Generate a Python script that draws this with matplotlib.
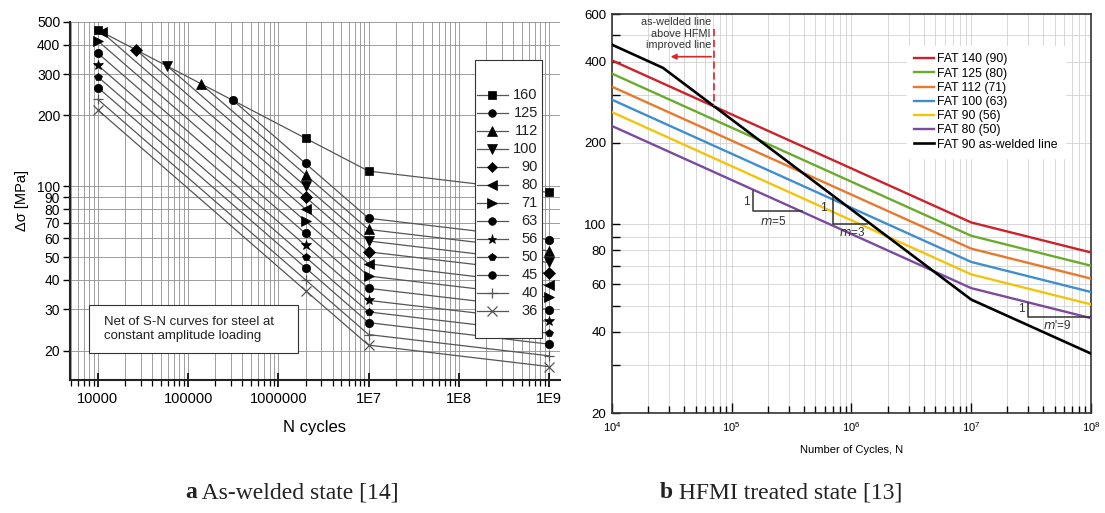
import matplotlib.pyplot as plt
import numpy as np
from matplotlib.patches import Rectangle
from matplotlib.ticker import FixedLocator, NullLocator, NullFormatter, LogLocator

plt.rcParams['font.family'] = ['Liberation Sans', 'DejaVu Sans']

# (a) as-welded: net of S-N curves, one row per FAT class
fat_classes = [160, 125, 112, 100, 90, 80, 71, 63, 56, 50, 45, 40, 36]
fat_markers = ['s', 'o', '^', 'v', 'D', '<', '>', 'o', '*', 'p', 'o', '+', 'x']
n_start = [1e4, 3.14e5, 1.38e5, 5.9e4, 2.67e4, 1.1e4, 1e4, 1e4, 1e4, 1e4, 1e4, 1e4, 1e4]
s_start = [462, 232, 273, 324, 379, 453, 415, 368, 327, 292, 263, 234, 211]
s_2e6 = [160, 125, 112, 100, 90, 80, 71, 63, 56, 50, 45, 40, 36]
s_1e7 = [116, 73.1, 65.5, 58.5, 52.6, 46.8, 41.5, 36.8, 32.7, 29.2, 26.3, 23.4, 21.1]
s_1e9 = [94.1, 59.3, 53.1, 47.4, 42.7, 37.9, 33.7, 29.9, 26.6, 23.7, 21.3, 19.0, 17.1]
n_knee = [2e6, 1e7, 1e9]
xticks_a = [1e4, 1e5, 1e6, 1e7, 1e8, 1e9]
xlabels_a = ['10000', '100000', '1000000', '1E7', '1E8', '1E9']
yticks_a = [20, 30, 40, 50, 60, 70, 80, 90, 100, 200, 300, 400, 500]

# (b) HFMI treated
hfmi_labels = ['FAT 140 (90)', 'FAT 125 (80)', 'FAT 112 (71)', 'FAT 100 (63)', 'FAT 90 (56)', 'FAT 80 (50)']
hfmi_colors = ['#cc2229', '#6aab2e', '#e8792c', '#3f8fcf', '#f2c40c', '#7a4a9e']
hfmi_n = [1e4, 1e7, 1e8]
hfmi_s_1e4 = [404, 361, 323, 289, 260, 231]
hfmi_s_1e7 = [101.5, 90.6, 81.2, 72.5, 65.2, 58.0]
hfmi_s_1e8 = [78.6, 70.2, 62.9, 56.1, 50.5, 44.9]
aw_n = [1e4, 2.67e4, 1e7, 1e8]
aw_s = [462, 379, 52.6, 33.2]
yticks_b = [20, 40, 60, 80, 100, 200, 400, 600]
yminor_b = [30, 50, 70, 90, 300, 500]


def marker_style(mk):
    # filled markers black, the thin ones grey; triangles a bit bigger to look even
    if mk in ('+', 'x'):
        return dict(ms=7.5, mew=0.9, color='#555555')
    if mk in ('^', 'v', '<', '>', '*'):
        return dict(ms=7, mew=0.5, color='black')
    return dict(ms=6, mew=0.5, color='black')


fig = plt.figure(figsize=(11.05, 5.13), dpi=100)

# ---------------- panel a ----------------
ax1 = fig.add_axes([0.0633, 0.2593, 0.4434, 0.698])
ax1.set_xscale('log')
ax1.set_yscale('log')
for i, fat in enumerate(fat_classes):
    ns = [n_start[i]] + n_knee
    ss = [s_start[i], s_2e6[i], s_1e7[i], s_1e9[i]]
    ax1.plot(ns, ss, color='#555555', lw=0.9, zorder=2)
    ax1.plot(ns, ss, ls='none', marker=fat_markers[i], zorder=2.5, **marker_style(fat_markers[i]))
ax1.set_xlim(4900, 1.32e9)
ax1.set_ylim(15, 500)
ax1.set_xticks(xticks_a, xlabels_a)
ax1.xaxis.set_minor_locator(LogLocator(base=10, subs=np.arange(2, 10)))
ax1.xaxis.set_minor_formatter(NullFormatter())
ax1.yaxis.set_major_locator(FixedLocator(yticks_a))
ax1.set_yticklabels([str(v) for v in yticks_a])
ax1.yaxis.set_minor_locator(NullLocator())
ax1.tick_params(axis='x', which='major', direction='inout', length=10, width=1.2, labelsize=10.5, pad=4)
ax1.tick_params(axis='x', which='minor', direction='out', length=4, width=0.9)
ax1.tick_params(axis='y', which='major', direction='out', length=5, width=1.0, labelsize=10, pad=2)
ax1.grid(which='both', color='#8f8f8f', lw=0.6)
for side in ('top', 'right'):
    ax1.spines[side].set_visible(False)
for side in ('left', 'bottom'):
    ax1.spines[side].set_linewidth(1.5)
    ax1.spines[side].set_color('#222222')
ax1.set_ylabel('Δσ [MPa]', fontsize=10.5, labelpad=6)
ax1.set_xlabel('N cycles', fontsize=12, labelpad=10)

# legend box drawn by hand so the numbers can be right aligned
ax1.add_patch(Rectangle((0.827, 0.117), 0.136, 0.777, transform=ax1.transAxes,
                        fc='white', ec='#333333', lw=0.8, zorder=3))
for i, fat in enumerate(fat_classes):
    y = 0.796 - i * 0.0503
    st = marker_style(fat_markers[i])
    st['ms'] = st['ms'] - 0.5
    ax1.plot([0.831, 0.894], [y, y], transform=ax1.transAxes, color='#555555', lw=0.9, zorder=4)
    ax1.plot([0.862], [y], transform=ax1.transAxes, marker=fat_markers[i], zorder=4, **st)
    ax1.text(0.955, y, str(fat), transform=ax1.transAxes, ha='right', va='center',
             fontsize=10.5, color='#222222', zorder=4)

ax1.add_patch(Rectangle((0.039, 0.075), 0.426, 0.1345, transform=ax1.transAxes,
                        fc='white', ec='#333333', lw=0.8, zorder=3))
ax1.text(0.069, 0.142, 'Net of S-N curves for steel at\nconstant amplitude loading',
         transform=ax1.transAxes, ha='left', va='center', fontsize=9.5,
         linespacing=1.3, color='#222222', zorder=4)

# ---------------- panel b ----------------
ax2 = fig.add_axes([0.5538, 0.1949, 0.4335, 0.7778])
ax2.set_xscale('log')
ax2.set_yscale('log')
for i, lab in enumerate(hfmi_labels):
    ax2.plot(hfmi_n, [hfmi_s_1e4[i], hfmi_s_1e7[i], hfmi_s_1e8[i]],
             color=hfmi_colors[i], lw=1.7, label=lab, zorder=3)
ax2.plot(aw_n, aw_s, color='black', lw=1.9, label='FAT 90 as-welded line', zorder=3.5)
ax2.set_xlim(1e4, 1e8)
ax2.set_ylim(20, 600)
ax2.yaxis.set_major_locator(FixedLocator(yticks_b))
ax2.set_yticklabels([str(v) for v in yticks_b])
ax2.yaxis.set_minor_locator(FixedLocator(yminor_b))
ax2.yaxis.set_minor_formatter(NullFormatter())
ax2.xaxis.set_major_locator(LogLocator(base=10))
ax2.xaxis.set_minor_locator(LogLocator(base=10, subs=np.arange(2, 10)))
ax2.xaxis.set_minor_formatter(NullFormatter())
ax2.tick_params(axis='both', which='both', direction='in', width=1.0)
ax2.tick_params(axis='x', which='major', length=7, labelsize=8, pad=5)
ax2.tick_params(axis='x', which='minor', length=5)
ax2.tick_params(axis='y', which='both', length=6, labelsize=9.5, pad=4)
ax2.grid(which='both', color='#d2d2d2', lw=0.6, zorder=0)
for side in ax2.spines:
    ax2.spines[side].set_linewidth(1.2)
    ax2.spines[side].set_color('#333333')
ax2.set_xlabel('Number of Cycles, N', fontsize=8, labelpad=8)

leg = ax2.legend(loc='upper left', bbox_to_anchor=(0.603, 0.935), fontsize=8.8,
                 handlelength=1.6, handletextpad=0.3, labelspacing=0.18,
                 borderpad=0.6, fancybox=False, framealpha=1)
leg.get_frame().set_edgecolor('white')

# as-welded above HFMI marker
ax2.plot([7.1e4, 7.1e4], [530, 275], color='#e0303a', ls=(0, (4, 2)), lw=1.3, zorder=4)
ax2.annotate('', xy=(2.93e4, 417), xytext=(7.1e4, 417),
             arrowprops=dict(arrowstyle='-|>', color='#d62828', lw=1.2, mutation_scale=8))
ax2.text(6.7e4, 585, 'as-welded line\nabove HFMI\nimproved line', ha='right', va='top',
         fontsize=7.8, color='#333333', linespacing=1.2)

# slope triangles
tri_col = '#333333'
ax2.plot([1.5e5, 1.5e5, 3.83e5], [132.6, 111.8, 111.8], color=tri_col, lw=1.1, zorder=4)
ax2.text(1.33e5, 121, '1', fontsize=8.5, ha='center', va='center', color=tri_col)
ax2.text(2.2e5, 102.6, '$m$=5', fontsize=8.5, ha='center', va='center', color=tri_col)
ax2.plot([6.95e5, 6.95e5, 1.36e6], [126, 100, 100], color=tri_col, lw=1.1, zorder=4)
ax2.text(5.85e5, 114.7, '1', fontsize=8.5, ha='center', va='center', color=tri_col)
ax2.text(1.02e6, 93.4, '$m$=3', fontsize=8.5, ha='center', va='center', color=tri_col)
ax2.plot([2.98e7, 2.98e7, 1e8], [51.3, 45.5, 45.5], color=tri_col, lw=1.1, zorder=4)
ax2.text(2.61e7, 48.7, '1', fontsize=8.5, ha='center', va='center', color=tri_col)
ax2.text(5.2e7, 42.2, "$m$'=9", fontsize=8.5, ha='center', va='center', color=tri_col)

# captions
cap = dict(fontfamily='Liberation Serif', fontsize=17, va='center', color='#222222')
fig.text(0.178, 0.039, 'a', fontweight='bold', ha='right', **cap)
fig.text(0.178, 0.039, ' As-welded state [14]', ha='left', **cap)
fig.text(0.609, 0.039, 'b', fontweight='bold', ha='right', **cap)
fig.text(0.609, 0.039, ' HFMI treated state [13]', ha='left', **cap)

fig.savefig('out.png', dpi=100)
